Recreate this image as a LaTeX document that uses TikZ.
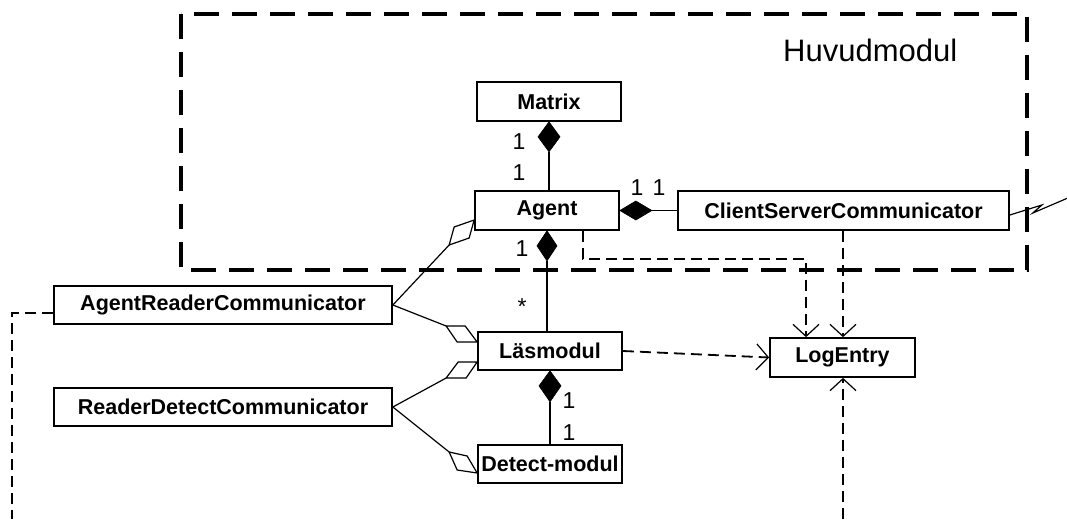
\documentclass[tikz,border=0pt]{standalone}
\usepackage{fontspec}
\setmainfont{Liberation Sans}
\usetikzlibrary{arrows.meta,calc}

\tikzset{
  cls/.style={draw, line width=1.7pt, inner sep=0pt, fill=white,
    font=\fontsize{21.5}{25}\selectfont\bfseries},
  mult/.style={inner sep=0pt, font=\fontsize{23}{27}\selectfont},
  link/.style={line width=1.2pt},
  agg/.style={draw, line width=1.2pt, fill=white, line join=miter},
  comp/.style={fill=black, draw=black, line width=0.6pt},
  dep/.style={line width=1.8pt, dash pattern=on 11pt off 6pt},
  deparrow/.style={dep, -{Straight Barb[length=12pt,width=26pt,line width=1.2pt]}},
  frame/.style={line width=4pt, dash pattern=on 25pt off 13pt}
}

\begin{document}
\begin{tikzpicture}[x=1pt,y=-1pt]
\useasboundingbox (0,0) rectangle (1067,519);

% main module frame
\draw[frame] (181,14) rectangle (1027,270);
\node[anchor=base west, inner sep=0pt, font=\fontsize{31}{36}\selectfont] (title) at (783,61) {Huvudmodul};

% classes
\node[cls, minimum width=144pt, minimum height=39pt] (matrix) at (549,101.5) {Matrix};
\node[cls, minimum width=144pt, minimum height=39pt] (agent) at (547,210.5) {Agent};
\node[cls, minimum width=331pt, minimum height=39pt] (csc) at (843.5,210.5) {ClientServerCommunicator};
\node[cls, minimum width=144pt, minimum height=38pt] (las) at (550,351) {Läsmodul};
\node[cls, minimum width=144pt, minimum height=38pt] (det) at (550,464) {Detect-modul};
\node[cls, minimum width=338pt, minimum height=38pt] (arc) at (223,305) {AgentReaderCommunicator};
\node[cls, minimum width=338pt, minimum height=38pt] (rdc) at (223,407) {ReaderDetectCommunicator};
\node[cls, minimum width=145pt, minimum height=39pt] (log) at (842.5,357.5) {LogEntry};

% compositions
\draw[comp] (matrix.south) -- ++(-11,15) -- ++(11,15) coordinate (cm) -- ++(11,-15) -- cycle;
\draw[link] (cm) -- (cm |- agent.north);

\draw[comp] (agent.east) -- ++(16,-9.5) -- ++(16,9.5) coordinate (ca) -- ++(-16,9.5) -- cycle;
\draw[link] (ca) -- (csc.west);

\draw[comp] (agent.south) -- ++(-10,15) -- ++(10,15) coordinate (cb) -- ++(10,-15) -- cycle;
\draw[link] (cb) -- (cb |- las.north);

\draw[comp] (las.south) -- ++(-11,15) -- ++(11,16) coordinate (cl) -- ++(11,-16) -- cycle;
\draw[link] (cl) -- (cl |- det.north);

% aggregations
\draw[agg] ([yshift=-9.5pt]agent.west) -- ++(-20,7) -- ++(-5,18) coordinate (aa) -- ++(20,-7) -- cycle;
\draw[agg] ([yshift=9pt]las.west) -- ++(-20,0) -- ++(-11,-16) coordinate (al1) -- ++(19,0) -- cycle;
\draw[agg] ([yshift=-11pt]las.west) -- ++(-19,0) -- ++(-12,16) coordinate (al2) -- ++(20,0) -- cycle;
\draw[agg] ([yshift=-9pt]det.west) -- ++(-20,-3) -- ++(-8,-18) coordinate (ad) -- ++(18,4) -- cycle;
\draw[link] (arc.east) -- (aa);
\draw[link] (arc.east) -- (al1);
\draw[link] (rdc.east) -- (al2);
\draw[link] (rdc.east) -- (ad);

% multiplicities
\node[mult] (m1) at (519,142) {1};
\node[mult] (m2) at (519,173) {1};
\node[mult] (m3) at (637,188) {1};
\node[mult] (m4) at (659,188) {1};
\node[mult] (m5) at (522,249) {1};
\node[mult] (m6) at (522,307) {*};
\node[mult] (m7) at (569,401) {1};
\node[mult] (m8) at (569,433) {1};

% dependencies
\draw[deparrow] ([xshift=36pt]agent.south) -- ++(0,28) -| ([xshift=-36.5pt]log.north);
\draw[deparrow] ([xshift=-0.5pt]csc.south) -- ([xshift=-0.5pt]csc.south |- log.north);
\draw[deparrow] (las.east) -- (log.west);
\coordinate (bot) at (843,519);
\draw[deparrow] (bot) -- (bot |- log.south);
\coordinate (lft) at (12,519);
\draw[dep] ([yshift=-8pt]arc.west) -| (lft);

% external link
\draw[link] ([yshift=-4.5pt]csc.east) -- ++(32,-10) -- ++(-9,8) -- ++(35,-15) coordinate (ext);
\end{tikzpicture}
\end{document}
